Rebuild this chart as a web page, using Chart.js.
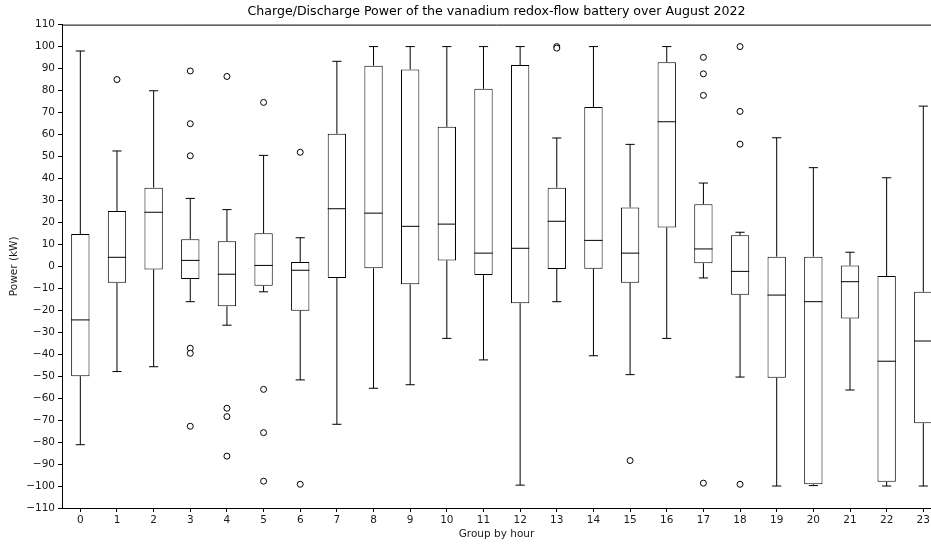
<!DOCTYPE html>
<html>
<head>
<meta charset="utf-8">
<script src="https://cdn.jsdelivr.net/npm/chart.js@4/dist/chart.umd.min.js"></script>
<style>
  html, body { margin: 0; padding: 0; background: #fff; overflow: hidden; }
  #wrap { width: 931px; height: 545px; }
  canvas { display: block; }
</style>
</head>
<body>
<div id="wrap"><canvas id="boxChart" width="931" height="545"></canvas></div>
<script>
// Datos (kW por hora del día)
const HOURS = [0, 1, 2, 3, 4, 5, 6, 7, 8, 9, 10, 11, 12, 13, 14, 15, 16, 17, 18, 19, 20, 21, 22, 23];
const WHISKER_LOW = [-81.2, -47.9, -45.7, -16.1, -26.8, -11.6, -51.7, -71.9, -55.5, -53.9, -32.8, -42.6,
  -99.6, -16.1, -40.7, -49.3, -32.8, -5.3, -50.4, -100, -99.8, -56.3, -100, -100];
const Q1 = [-50.0, -7.5, -1.4, -5.8, -18.2, -8.8, -20.2, -5.3, -0.9, -8.2, 2.7, -4.0,
  -16.8, -1.2, -1.1, -7.5, 17.7, 1.4, -12.9, -50.7, -99.2, -23.7, -98.1, -71.4];
const MEDIAN = [-24.4, 4.1, 24.6, 2.7, -3.6, 0.4, -1.8, 26.2, 24.2, 18.2, 19.2, 6.0,
  8.2, 20.5, 11.8, 6.0, 65.8, 7.9, -2.3, -13.1, -16.1, -7.0, -43.2, -34.0];
const Q3 = [14.7, 25.2, 35.8, 12.3, 11.4, 15.0, 2.0, 60.3, 91.3, 89.6, 63.5, 80.8,
  91.6, 35.8, 72.5, 26.8, 92.9, 28.2, 14.1, 4.4, 4.4, 0.4, -4.4, -11.6];
const WHISKER_HIGH = [98.0, 52.5, 79.9, 30.9, 25.8, 50.5, 13.0, 93.3, 100, 100, 100, 100,
  100, 58.4, 100, 55.5, 100, 37.9, 15.5, 58.5, 44.9, 6.4, 40.3, 72.9];
const OUTLIERS = [
  [], [85], [], [88.9, 64.9, 50.3, -37.3, -39.6, -72.8], [86.4, -64.6, -68.4, -86.4],
  [74.6, -56.0, -75.7, -97.8], [51.9, -99.2], [], [], [], [], [], [],
  [100, 99.3], [], [-88.4], [], [95.1, 87.6, 77.8, -98.7], [100, 70.5, 55.6, -99.2],
  [], [], [], [], []
];
const Y_TICKS = [-110, 110, 10];

(function () {
  'use strict';

  const FONT = 'DejaVu Sans';
  const INK = '#000000';
  const TEXT = '#1a1a1a';
  const BOX_HALF = 0.25;
  const CAP_HALF = 0.125;
  // Guion "sólido": evita el trazado rápido que redondea x a píxel entero
  const SOLID = [1000, 0];

  // Segmentos de bigotes y tapas (null corta la línea)
  const whiskerPts = [];
  const medianPts = [];
  HOURS.forEach((h, i) => {
    whiskerPts.push({ x: h, y: Q3[i] }, { x: h, y: WHISKER_HIGH[i] }, { x: h, y: null });
    whiskerPts.push({ x: h, y: Q1[i] }, { x: h, y: WHISKER_LOW[i] }, { x: h, y: null });
    whiskerPts.push({ x: h - CAP_HALF, y: WHISKER_HIGH[i] }, { x: h + CAP_HALF, y: WHISKER_HIGH[i] }, { x: h, y: null });
    whiskerPts.push({ x: h - CAP_HALF, y: WHISKER_LOW[i] }, { x: h + CAP_HALF, y: WHISKER_LOW[i] }, { x: h, y: null });
    medianPts.push({ x: h - BOX_HALF, y: MEDIAN[i] }, { x: h + BOX_HALF, y: MEDIAN[i] }, { x: h, y: null });
  });

  const outlierPts = [];
  HOURS.forEach((h, i) => OUTLIERS[i].forEach(v => outlierPts.push({ x: h, y: v })));

  // Marco superior (spine)
  const topSpine = {
    id: 'topSpine',
    afterDraw(chart) {
      const { ctx, chartArea } = chart;
      ctx.save();
      ctx.strokeStyle = INK;
      ctx.lineWidth = 1;
      ctx.beginPath();
      ctx.moveTo(chartArea.left, chartArea.top + 0.5);
      ctx.lineTo(chartArea.right, chartArea.top + 0.5);
      ctx.stroke();
      ctx.restore();
    }
  };

  const ctx = document.getElementById('boxChart');

  new Chart(ctx, {
    type: 'bar',
    data: {
      datasets: [
        {
          type: 'bar',
          label: 'box',
          data: HOURS.map((h, i) => ({ x: h, y: [Q1[i], Q3[i]] })),
          backgroundColor: '#ffffff',
          borderColor: INK,
          borderWidth: 1,
          borderSkipped: false,
          categoryPercentage: 0.5,
          barPercentage: 1,
          order: 3
        },
        {
          type: 'line',
          label: 'whiskers',
          data: whiskerPts,
          borderColor: INK,
          borderWidth: 1,
          borderDash: SOLID,
          pointRadius: 0,
          spanGaps: false,
          tension: 0,
          order: 2
        },
        {
          type: 'line',
          label: 'median',
          data: medianPts,
          borderColor: INK,
          borderWidth: 1,
          borderDash: SOLID,
          pointRadius: 0,
          spanGaps: false,
          tension: 0,
          order: 1
        },
        {
          type: 'line',
          label: 'outliers',
          data: outlierPts,
          showLine: false,
          pointStyle: 'circle',
          pointRadius: 3,
          pointHoverRadius: 3,
          pointBackgroundColor: '#ffffff',
          pointBorderColor: INK,
          pointBorderWidth: 1,
          order: 0
        }
      ]
    },
    options: {
      responsive: false,
      animation: false,
      events: [],
      layout: { padding: 0, autoPadding: false },
      plugins: {
        legend: { display: false },
        tooltip: { enabled: false },
        title: {
          display: true,
          fullSize: false,
          text: 'Charge/Discharge Power of the vanadium redox-flow battery over August 2022',
          color: INK,
          font: { family: FONT, size: 12.6, weight: 'normal', lineHeight: 1.2 },
          padding: { top: 4.5, bottom: 5 }
        }
      },
      scales: {
        x: {
          type: 'linear',
          min: -0.5,
          max: 23.21,
          offset: false,
          afterBuildTicks(scale) {
            scale.ticks = HOURS.map(v => ({ value: v }));
          },
          afterFit(scale) {
            scale.height = 37;
            scale.paddingLeft = 0;
            scale.paddingRight = 0;
          },
          ticks: {
            color: TEXT,
            font: { family: FONT, size: 10.5 },
            padding: 2,
            maxRotation: 0,
            autoSkip: false
          },
          grid: {
            offset: false,
            drawOnChartArea: false,
            drawTicks: true,
            tickLength: 4,
            tickColor: INK
          },
          border: { display: true, color: INK, width: 1 },
          title: {
            display: true,
            text: 'Group by hour',
            color: TEXT,
            font: { family: FONT, size: 10.5, lineHeight: 1.2 },
            padding: { top: 0, bottom: 4 }
          }
        },
        y: {
          min: Y_TICKS[0],
          max: Y_TICKS[1],
          afterFit(scale) {
            scale.width = 62;
          },
          ticks: {
            stepSize: Y_TICKS[2],
            color: TEXT,
            font: { family: FONT, size: 10.5 },
            padding: 3,
            callback: v => String(v).replace('-', '\u2212')
          },
          grid: {
            drawOnChartArea: false,
            drawTicks: true,
            tickLength: 4,
            tickColor: INK
          },
          border: { display: true, color: INK, width: 1 },
          title: {
            display: true,
            text: 'Power (kW)',
            color: TEXT,
            font: { family: FONT, size: 10.5, lineHeight: 1.2 },
            padding: { top: 8, bottom: 0 }
          }
        }
      }
    },
    plugins: [topSpine]
  });
})();
</script>
</body>
</html>
